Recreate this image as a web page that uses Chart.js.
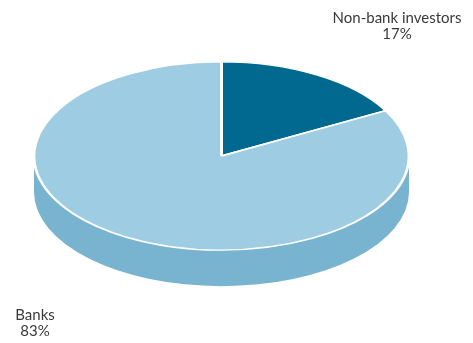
<!DOCTYPE html>
<html lang="en">

<head>
    <meta charset="UTF-8">
    <title>Holders pie</title>
    <style>
        html, body { margin: 0; padding: 0; background: #fff; }
        #wrap { width: 473px; height: 343px; }
    </style>
</head>

<body>
    <div id="wrap">
        <canvas id="myChart" width="473" height="343"></canvas>
    </div>
    <script src="https://cdn.jsdelivr.net/npm/chart.js"></script>
    <script>
        // data
        var labels = ['Non-bank investors', 'Banks'];
        var shares = [17, 83];
        var topColors = ['#01688f', '#9ecde3'];
        var sideColors = ['#014c69', '#78b3d0'];

        // where the tilted pie sits on screen
        var PIE = { cx: 221.5, cy: 156, rx: 187.5, tilt: 0.502, depth: 36 };
        // label anchors (centre of the text block)
        var labelPos = [{ x: 397, y: 18 }, { x: 35, y: 315 }];

        var tiltPlugin = {
            id: 'tilt',
            beforeDatasetsDraw: function (chart) {
                var ctx = chart.ctx;
                var meta = chart.getDatasetMeta(0);
                var el = meta.data[0];
                var k = PIE.rx / el.outerRadius;
                var ry = PIE.rx * PIE.tilt;
                ctx.save();
                // side walls, only the front half is visible
                meta.data.forEach(function (arc, i) {
                    var a = arc.startAngle, b = arc.endAngle;
                    for (var m = -1; m <= 1; m++) {
                        var lo = Math.max(a, 2 * Math.PI * m);
                        var hi = Math.min(b, Math.PI + 2 * Math.PI * m);
                        if (hi <= lo) continue;
                        ctx.beginPath();
                        ctx.ellipse(PIE.cx, PIE.cy, PIE.rx, ry, 0, lo, hi);
                        ctx.ellipse(PIE.cx, PIE.cy + PIE.depth, PIE.rx, ry, 0, hi, lo, true);
                        ctx.closePath();
                        ctx.fillStyle = sideColors[i];
                        ctx.fill();
                    }
                });
                // squash the top face
                ctx.translate(PIE.cx, PIE.cy);
                ctx.scale(k, k * PIE.tilt);
                ctx.translate(-el.x, -el.y);
            },
            afterDatasetsDraw: function (chart) {
                chart.ctx.restore();
            },
            afterDraw: function (chart) {
                var ctx = chart.ctx;
                ctx.save();
                ctx.fillStyle = '#3a3a3a';
                ctx.font = '15px Lato, sans-serif';
                ctx.textAlign = 'center';
                ctx.textBaseline = 'middle';
                labels.forEach(function (t, i) {
                    ctx.fillText(t, labelPos[i].x, labelPos[i].y);
                    ctx.fillText(shares[i] + '%', labelPos[i].x, labelPos[i].y + 16);
                });
                ctx.restore();
            }
        };

        var ctx1 = document.getElementById('myChart');
        var myChart = new Chart(ctx1, {
            type: 'pie',
            data: {
                labels: labels,
                datasets: [{
                    data: shares,
                    backgroundColor: topColors,
                    borderColor: '#ffffff',
                    borderWidth: 2.6
                }]
            },
            options: {
                responsive: false,
                animation: false,
                events: [],
                plugins: {
                    legend: { display: false },
                    tooltip: { enabled: false }
                },
                layout: { padding: 0 }
            },
            plugins: [tiltPlugin]
        });
    </script>
</body>

</html>
